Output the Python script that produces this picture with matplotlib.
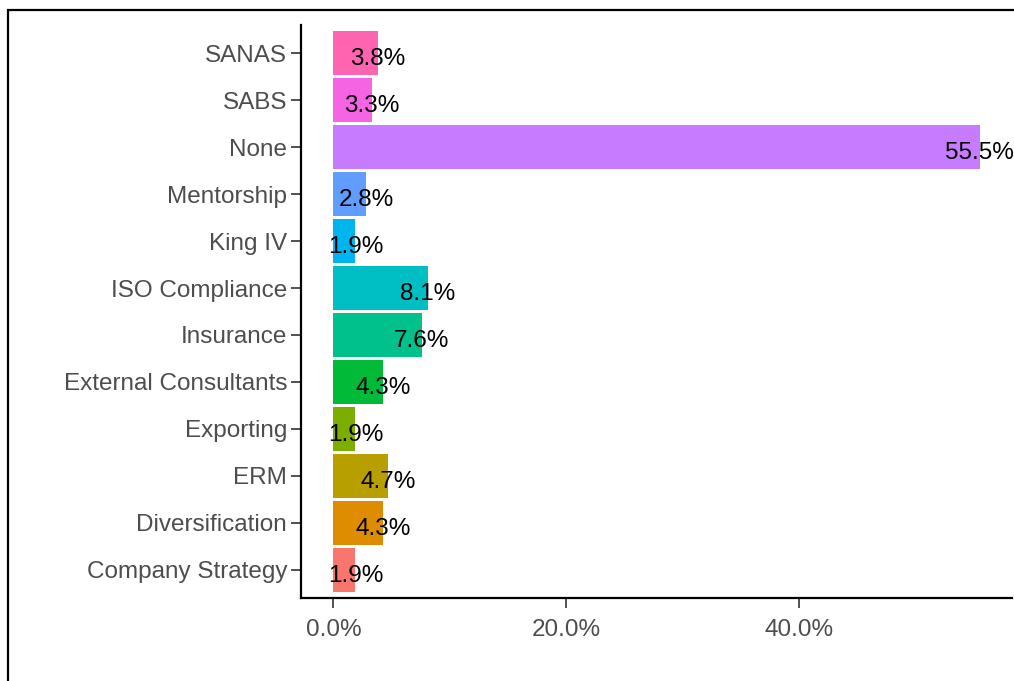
import matplotlib.pyplot as plt
from matplotlib.patches import Rectangle
from matplotlib.ticker import FuncFormatter

plt.rcParams['font.family'] = ['Liberation Sans', 'DejaVu Sans']

# Данные
categories = ['Company Strategy', 'Diversification', 'ERM', 'Exporting',
              'External Consultants', 'Insurance', 'ISO Compliance', 'King IV',
              'Mentorship', 'None', 'SABS', 'SANAS']
shares = [1.9, 4.3, 4.7, 1.9, 4.3, 7.6, 8.1, 1.9, 2.8, 55.5, 3.3, 3.8]
colors = ['#F8766D', '#DE8C00', '#B79F00', '#7CAE00', '#00BA38', '#00C08B',
          '#00BFC4', '#00B4F0', '#619CFF', '#C77CFF', '#F564E3', '#FF64B0']

W, H = 1014, 681
fig = plt.figure(figsize=(W / 100, H / 100), dpi=100)

# рамка вокруг графика (обрезана справа и снизу)
fig.patches.append(Rectangle((8 / W, -0.1), 1.2, 1 - 10 / H + 0.1,
                             transform=fig.transFigure, fill=False,
                             edgecolor='black', linewidth=1.6))

ax = fig.add_axes([301 / W, 1 - 598 / H, 711 / W, 573 / H])

pos = range(len(categories))
ax.barh(pos, shares, height=0.93, color=colors)
for i, v in zip(pos, shares):
    ax.text(v, i - 0.13, f'{v:.1f}%', ha='center', va='center',
            fontsize=17.5, color='black')

ax.set_xlim(-2.775, 58.275)
ax.set_ylim(-0.6, 11.6)
ax.set_yticks(list(pos))
ax.set_yticklabels(categories, va='center_baseline')
ax.set_xticks([0, 20, 40])
ax.xaxis.set_major_formatter(FuncFormatter(lambda v, p: f'{v:.1f}%'))

for s in ['top', 'right']:
    ax.spines[s].set_visible(False)
for s in ['left', 'bottom']:
    ax.spines[s].set_linewidth(1.6)
ax.tick_params(axis='both', labelsize=17.5, labelcolor='#4D4D4D',
               color='#333333', length=7, width=1.2)
ax.tick_params(axis='x', pad=8)
ax.tick_params(axis='y', pad=3)

fig.savefig('out.png', dpi=100)
